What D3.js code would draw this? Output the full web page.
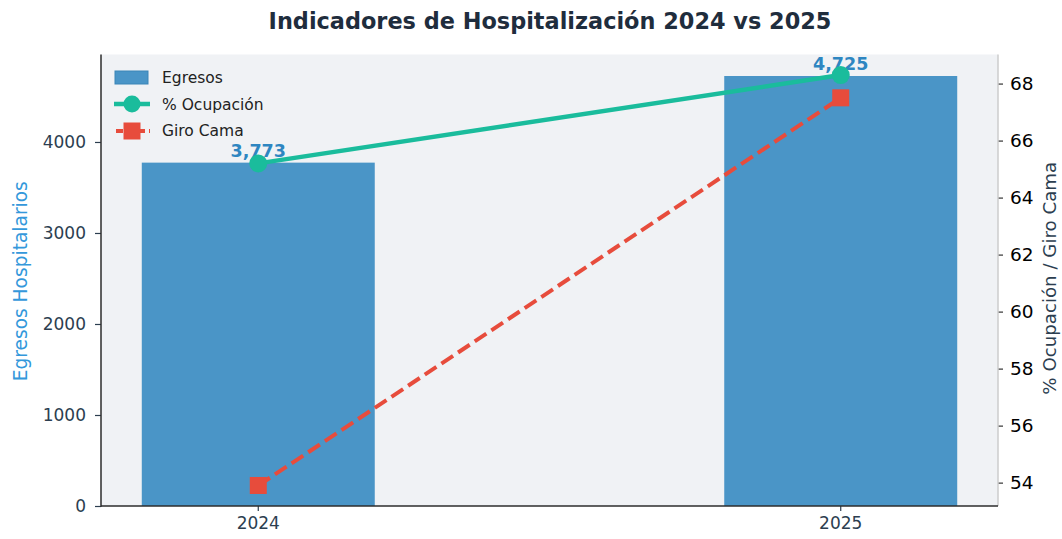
<!DOCTYPE html>
<html>
<head>
<meta charset="utf-8">
<script src="https://cdn.jsdelivr.net/npm/d3@7"></script>
<style>
  body { margin: 0; background: #fff; }
  svg text { font-family: "DejaVu Sans", sans-serif; }
</style>
</head>
<body>
<svg id="chart" width="1062" height="539"></svg>
<script>
// datos
const years = ["2024", "2025"]
const egresos = [3773, 4725]
const ocupacion = [65.2, 68.3]
const giroCama = [53.9, 67.5]
const leftTicks = [0, 1000, 2000, 3000, 4000]
const rightTicks = [54, 56, 58, 60, 62, 64, 66, 68]

const svg = d3.select("#chart")
const L = 101, R = 998, T = 54.5, B = 506

// fondo del área de trazado
svg.append("rect")
    .attr("x", L).attr("y", T)
    .attr("width", R - L).attr("height", B - T)
    .style("fill", "#f0f2f5")

// escalas
let x = d3.scaleBand()
    .domain(years)
    .range([L, R])
    .paddingInner(0.6)
    .paddingOuter(0.07)
const bw = x.bandwidth()
const cx = d => x(d) + bw / 2

let y = d3.scaleLinear()
    .domain([0, d3.max(egresos) * 1.05])
    .range([B, T])

// margen automatico de 5% como matplotlib
const allRight = ocupacion.concat(giroCama)
const rMin = d3.min(allRight), rMax = d3.max(allRight)
const pad = (rMax - rMin) * 0.05
let y2 = d3.scaleLinear()
    .domain([rMin - pad, rMax + pad])
    .range([B, T])

// barras
svg.selectAll(".bar")
    .data(egresos)
    .enter().append("rect")
    .attr("x", (d, i) => x(years[i]))
    .attr("y", d => y(d))
    .attr("width", bw)
    .attr("height", d => B - y(d))
    .style("fill", "#4a95c7")

// etiquetas de barras
svg.selectAll(".barlbl")
    .data(egresos)
    .enter().append("text")
    .attr("x", (d, i) => cx(years[i]))
    .attr("y", d => y(d) - 6)
    .attr("text-anchor", "middle")
    .style("font-size", "17.5px")
    .style("font-weight", "bold")
    .style("fill", "#2e86c1")
    .text(d => d3.format(",")(d))

// ejes
let axL = svg.append("g")
    .attr("transform", `translate(${L},0)`)
    .call(d3.axisLeft(y).tickValues(leftTicks).tickSize(6).tickPadding(9).tickFormat(d3.format("d")))
axL.select(".domain").remove()
axL.selectAll("line").style("stroke", "#2c3e50").style("stroke-width", 1.2)
axL.selectAll("text").style("font-size", "17px").style("fill", "#2c3e50")

let axB = svg.append("g")
    .attr("transform", `translate(0,${B})`)
    .call(d3.axisBottom(x).tickSize(5).tickPadding(6))
axB.select(".domain").remove()
axB.selectAll("line").style("stroke", "#2c3e50").style("stroke-width", 1.2)
axB.selectAll("text").style("font-size", "17px").style("fill", "#2c3e50")

let axR = svg.append("g")
    .attr("transform", `translate(${R},0)`)
    .call(d3.axisRight(y2).tickValues(rightTicks).tickSize(5).tickPadding(7))
axR.select(".domain").remove()
axR.selectAll("line").style("stroke", "#333").style("stroke-width", 1.2)
axR.selectAll("text").style("font-size", "18.5px").style("fill", "#000")

// bordes
svg.append("line").attr("x1", R).attr("x2", R).attr("y1", T).attr("y2", B)
    .style("stroke", "#cccccc").style("stroke-width", 1.5)
svg.append("line").attr("x1", L).attr("x2", L).attr("y1", T).attr("y2", B + 0.75)
    .style("stroke", "#2c2c2c").style("stroke-width", 1.5)
svg.append("line").attr("x1", L).attr("x2", R).attr("y1", B).attr("y2", B)
    .style("stroke", "#2c2c2c").style("stroke-width", 1.5)

// linea % ocupacion
let lineOc = d3.line().x((d, i) => cx(years[i])).y(d => y2(d))
svg.append("path")
    .datum(ocupacion)
    .attr("d", lineOc)
    .style("fill", "none")
    .style("stroke", "#1abc9c")
    .style("stroke-width", 4.5)
svg.selectAll(".oc")
    .data(ocupacion)
    .enter().append("circle")
    .attr("cx", (d, i) => cx(years[i]))
    .attr("cy", d => y2(d))
    .attr("r", 9)
    .style("fill", "#1abc9c")

// linea giro cama
svg.append("path")
    .datum(giroCama)
    .attr("d", lineOc)
    .style("fill", "none")
    .style("stroke", "#e74c3c")
    .style("stroke-width", 4)
    .style("stroke-dasharray", "14,6")
svg.selectAll(".gc")
    .data(giroCama)
    .enter().append("rect")
    .attr("x", (d, i) => cx(years[i]) - 8.5)
    .attr("y", d => y2(d) - 8.5)
    .attr("width", 17)
    .attr("height", 17)
    .style("fill", "#e74c3c")

// titulos
svg.append("text")
    .attr("x", 550).attr("y", 29)
    .attr("text-anchor", "middle")
    .style("font-size", "22.4px")
    .style("font-weight", "bold")
    .style("fill", "#1f2d3d")
    .text("Indicadores de Hospitalización 2024 vs 2025")

svg.append("text")
    .attr("transform", `translate(27,${(T + B) / 2 + 1}) rotate(-90)`)
    .attr("text-anchor", "middle")
    .style("font-size", "18.6px")
    .style("fill", "#3498db")
    .text("Egresos Hospitalarios")

svg.append("text")
    .attr("transform", `translate(1056,${(T + B) / 2 - 2}) rotate(-90)`)
    .attr("text-anchor", "middle")
    .style("font-size", "18.2px")
    .style("fill", "#2c3e50")
    .text("% Ocupación / Giro Cama")

// leyenda
let lg = svg.append("g")
lg.append("rect").attr("x", 115).attr("y", 71).attr("width", 33).attr("height", 13)
    .style("fill", "#4a95c7").style("stroke", "#3a85b7")
lg.append("line").attr("x1", 114).attr("x2", 150).attr("y1", 104).attr("y2", 104)
    .style("stroke", "#1abc9c").style("stroke-width", 4.5)
lg.append("circle").attr("cx", 132).attr("cy", 104).attr("r", 8.5).style("fill", "#1abc9c")
lg.append("line").attr("x1", 116).attr("x2", 150).attr("y1", 131).attr("y2", 131)
    .style("stroke", "#e74c3c").style("stroke-width", 4).style("stroke-dasharray", "7,4")
lg.append("rect").attr("x", 123.5).attr("y", 122.5).attr("width", 17).attr("height", 17)
    .style("fill", "#e74c3c")
const lgText = ["Egresos", "% Ocupación", "Giro Cama"]
lg.selectAll(".lt")
    .data(lgText)
    .enter().append("text")
    .attr("x", 162)
    .attr("y", (d, i) => 83 + i * 26.5)
    .style("font-size", "15.5px")
    .style("fill", "#222")
    .text(d => d)
</script>
</body>
</html>
